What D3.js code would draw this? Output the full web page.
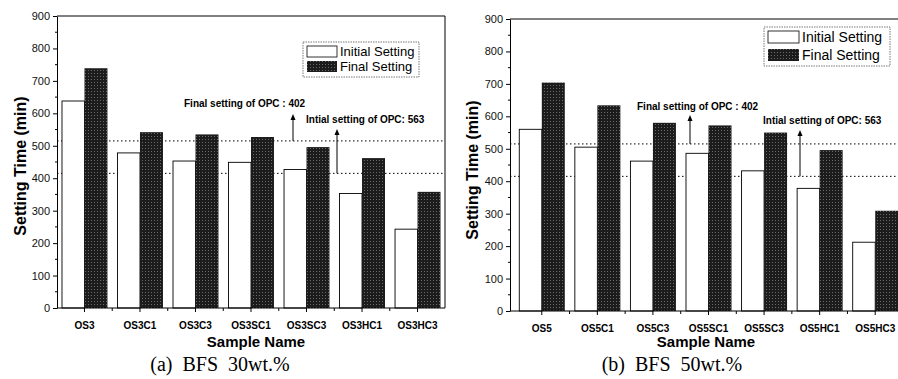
<!DOCTYPE html>
<html>
<head>
<meta charset="utf-8">
<script src="https://cdn.jsdelivr.net/npm/d3@7"></script>
<style>
  body { margin: 0; background: #fff; }
  svg { display: block; }
</style>
</head>
<body>
<svg id="myCanvas" width="898" height="379"></svg>
<script>
const width = 898;
const height = 379;

// data
const samples30 = ["OS3", "OS3C1", "OS3C3", "OS3SC1", "OS3SC3", "OS3HC1", "OS3HC3"];
const initial30 = [638, 478, 453, 449, 427, 353, 243];
const final30 = [739, 542, 535, 527, 496, 462, 358];

const samples50 = ["OS5", "OS5C1", "OS5C3", "OS5SC1", "OS5SC3", "OS5HC1", "OS5HC3"];
const initial50 = [560, 505, 462, 486, 432, 378, 212];
const final50 = [704, 634, 580, 572, 550, 496, 309];

const refLines = [515, 415];   // dotted OPC levels
const yTicks = [0, 100, 200, 300, 400, 500, 600, 700, 800, 900];
const yMinor = [50, 150, 250, 350, 450, 550, 650, 750, 850];
const seriesNames = ["Initial Setting", "Final Setting"];

const sans = "'Liberation Sans', Arial, sans-serif";
const serif = "'Liberation Serif', 'Times New Roman', serif";

const svg = d3.select("#myCanvas");

// halftone-like fill for the dark bars
const pat = svg.append("defs").append("pattern")
  .attr("id", "dots")
  .attr("width", 3).attr("height", 3)
  .attr("patternUnits", "userSpaceOnUse");
pat.append("rect").attr("width", 3).attr("height", 3).attr("fill", "#1c1c1c");
pat.append("rect").attr("x", 1).attr("y", 1).attr("width", 1).attr("height", 1).attr("fill", "#6a6a6a");

function drawPanel(opt) {
  const g = svg.append("g");

  const x = d3.scaleBand()
    .domain(opt.samples)
    .range([opt.left, opt.right])
    .paddingInner(0.19)
    .paddingOuter(opt.outer);

  const y = d3.scaleLinear()
    .domain([0, 900])
    .range([opt.bottom, opt.top]);

  const half = x.bandwidth() / 2;

  // dotted OPC reference lines
  g.selectAll(".ref")
    .data(refLines)
    .enter()
    .append("line")
    .attr("x1", opt.left)
    .attr("x2", opt.frameRight)
    .attr("y1", d => y(d))
    .attr("y2", d => y(d))
    .attr("stroke", "#000")
    .attr("stroke-width", 1)
    .attr("stroke-dasharray", "1.5,2.5");

  // initial setting bars
  g.selectAll(".init")
    .data(opt.samples)
    .enter()
    .append("rect")
    .attr("x", d => x(d))
    .attr("y", (d, i) => y(opt.initial[i]))
    .attr("width", half)
    .attr("height", (d, i) => y(0) - y(opt.initial[i]))
    .attr("fill", "#fff")
    .attr("stroke", "#000")
    .attr("stroke-width", 0.9);

  // final setting bars
  g.selectAll(".fin")
    .data(opt.samples)
    .enter()
    .append("rect")
    .attr("x", d => x(d) + half)
    .attr("y", (d, i) => y(opt.final[i]))
    .attr("width", half + 0.5)
    .attr("height", (d, i) => y(0) - y(opt.final[i]))
    .attr("fill", "url(#dots)");

  // frame
  g.append("line")
    .attr("x1", opt.left).attr("x2", opt.frameRight)
    .attr("y1", opt.top).attr("y2", opt.top)
    .attr("stroke", "#000");
  if (opt.frameRight < width) {
    g.append("line")
      .attr("x1", opt.frameRight).attr("x2", opt.frameRight)
      .attr("y1", opt.top).attr("y2", opt.bottom)
      .attr("stroke", "#000");
  }

  // y axis
  const yAxis = g.append("g")
    .attr("transform", `translate(${opt.left},0)`)
    .call(d3.axisLeft(y).tickValues(yTicks).tickSize(4).tickPadding(3).tickSizeOuter(0));
  yAxis.selectAll("text").style("font", `11px ${sans}`).attr("fill", "#111");
  yAxis.selectAll(".minor")
    .data(yMinor)
    .enter()
    .append("line")
    .attr("x1", -2).attr("x2", 0)
    .attr("y1", d => y(d)).attr("y2", d => y(d))
    .attr("stroke", "#000");

  // x axis
  const xAxis = g.append("g")
    .attr("transform", `translate(0,${opt.bottom})`)
    .call(d3.axisBottom(x).tickSize(4).tickPadding(10).tickSizeOuter(0));
  xAxis.select(".domain").attr("d", `M${opt.left},0H${opt.frameRight}`);
  xAxis.selectAll("text").style("font", `bold 10px ${sans}`).attr("fill", "#000");
  xAxis.selectAll(".minor")
    .data(opt.samples.slice(1))
    .enter()
    .append("line")
    .attr("x1", d => x(d) - x.step() * x.paddingInner() / 2)
    .attr("x2", d => x(d) - x.step() * x.paddingInner() / 2)
    .attr("y1", 0).attr("y2", 3)
    .attr("stroke", "#000");

  // axis titles
  g.append("text")
    .attr("transform", `translate(${opt.yTitleX},${opt.yTitleY}) rotate(-90)`)
    .attr("text-anchor", "middle")
    .attr("dy", "0.35em")
    .style("font", `bold 16px ${sans}`)
    .text("Setting Time (min)");

  g.append("text")
    .attr("x", opt.xTitleX)
    .attr("y", 347)
    .attr("text-anchor", "middle")
    .style("font", `bold 15px ${sans}`)
    .text("Sample Name");

  g.append("text")
    .attr("x", opt.captionX)
    .attr("y", 371)
    .attr("text-anchor", "middle")
    .style("font", `20px ${serif}`)
    .style("white-space", "pre")
    .text(opt.caption);

  // annotations with arrows
  opt.notes.forEach(n => {
    g.append("text")
      .attr("x", n.tx)
      .attr("y", n.ty)
      .style("font", `bold 10px ${sans}`)
      .text(n.label);
    g.append("line")
      .attr("x1", n.ax).attr("x2", n.ax)
      .attr("y1", y(n.from)).attr("y2", n.ay + 4)
      .attr("stroke", "#000")
      .attr("stroke-width", 1);
    g.append("path")
      .attr("d", `M${n.ax},${n.ay} l-2.5,6 h5 z`)
      .attr("fill", "#000");
  });

  // legend
  const lg = g.append("g").attr("transform", `translate(${opt.legend.x},${opt.legend.y})`);
  lg.append("rect")
    .attr("width", opt.legend.w).attr("height", opt.legend.h)
    .attr("fill", "#fff")
    .attr("stroke", "#555")
    .attr("stroke-width", 0.8)
    .attr("stroke-dasharray", "1.5,1");
  seriesNames.forEach((name, i) => {
    const rowY = 4 + i * opt.legend.row;
    lg.append("rect")
      .attr("x", 4).attr("y", rowY)
      .attr("width", opt.legend.sw).attr("height", opt.legend.sh)
      .attr("fill", i === 0 ? "#fff" : "url(#dots)")
      .attr("stroke", i === 0 ? "#000" : "none")
      .attr("stroke-width", 0.8);
    lg.append("text")
      .attr("x", opt.legend.sw + 7)
      .attr("y", rowY + opt.legend.sh / 2)
      .attr("dy", "0.36em")
      .style("font", `${opt.legend.fs}px ${sans}`)
      .text(name);
  });
}

drawPanel({
  samples: samples30, initial: initial30, final: final30,
  left: 57, right: 445, frameRight: 445, outer: 0.09,
  top: 16, bottom: 308,
  yTitleX: 20, yTitleY: 166,
  xTitleX: 256, captionX: 220,
  caption: "(a)  BFS  30wt.%",
  notes: [
    { label: "Final setting of OPC : 402", tx: 184, ty: 107, ax: 293, ay: 114, from: 515 },
    { label: "Intial setting of OPC: 563", tx: 306, ty: 123, ax: 337, ay: 129, from: 415 }
  ],
  legend: { x: 303, y: 42, w: 116, h: 35, sw: 30, sh: 11, row: 15, fs: 13 }
});

drawPanel({
  samples: samples50, initial: initial50, final: final50,
  left: 510, right: 907, frameRight: 907, outer: 0.167,
  top: 19, bottom: 311,
  yTitleX: 472, yTitleY: 170,
  xTitleX: 706, captionX: 672,
  caption: "(b)  BFS  50wt.%",
  notes: [
    { label: "Final setting of OPC : 402", tx: 637, ty: 110, ax: 690, ay: 115, from: 515 },
    { label: "Intial setting of OPC: 563", tx: 763, ty: 124, ax: 800, ay: 130, from: 415 }
  ],
  legend: { x: 764, y: 27, w: 126, h: 39, sw: 31, sh: 12, row: 18, fs: 14 }
});
</script>
</body>
</html>
